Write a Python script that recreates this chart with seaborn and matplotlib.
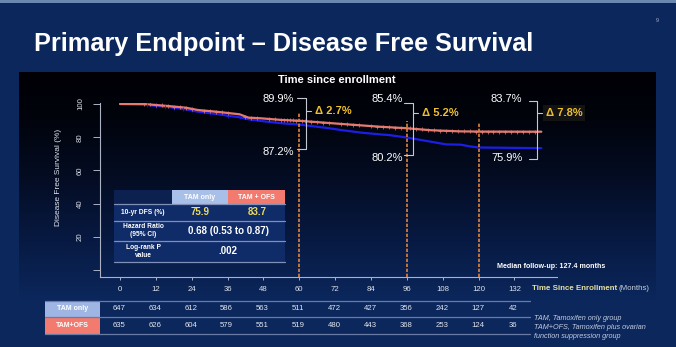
import numpy as np
import pandas as pd
import matplotlib
matplotlib.use("Agg")
import matplotlib.pyplot as plt
import seaborn as sns
from matplotlib.patches import Rectangle

# ---------------- data ----------------
months_ofs = [0, 8, 16, 22, 26, 32, 40, 43, 47, 54, 60, 74, 87, 96, 104, 114, 120, 141]
dfs_ofs = [100, 100, 98.8, 97.8, 96.4, 95.4, 93.8, 91.8, 91.4, 90.4, 89.9, 88.0, 86.3, 85.4, 84.2, 83.5, 83.4, 83.3]

months_tam = [0, 8, 16, 22, 26, 32, 40, 43, 47, 54, 60, 70, 74, 81, 87, 90, 96, 104, 109, 114, 117, 120, 141]
dfs_tam = [100, 99.6, 98.2, 96.8, 95.4, 94.0, 92.0, 90.8, 89.8, 88.4, 87.6, 85.4, 84.3, 82.7, 81.7, 81.3, 79.8, 77.3, 75.7, 75.5, 74.5, 73.8, 73.4]

censor_ofs = [8, 10, 12, 14, 16, 18, 20, 22, 24, 28, 30, 32, 34, 36, 42, 44, 46, 50, 52, 54, 55, 56, 57,
              58, 59, 61, 62, 64, 66, 68, 70, 74, 76, 78, 80, 84, 86, 88, 90, 92, 94, 97, 99, 101,
              103, 105, 107, 109, 111, 113, 115, 117, 119, 121, 123, 125, 127, 129, 131, 133, 135, 137, 139]
censor_tam = [9, 12, 15, 18, 21, 24, 30, 36, 40]

milestones = [60, 96, 120]
ms_ofs = [89.9, 85.4, 83.7]
ms_tam = [87.2, 80.2, 75.9]

x_ticks = [0, 12, 24, 36, 48, 60, 72, 84, 96, 108, 120, 132]
y_ticks = [0, 20, 40, 60, 80, 100]
y_ticklabels = ["", "20", "40", "60", "80", "100"]

risk_tam = [647, 634, 612, 586, 563, 511, 472, 427, 356, 242, 127, 42]
risk_ofs = [635, 626, 604, 579, 551, 519, 480, 443, 368, 253, 124, 36]

groups = ["TAM only", "TAM+OFS"]
dfs10 = ["75.9", "83.7"]
hr_text = "0.68 (0.53 to 0.87)"
p_text = ".002"

title = "Primary Endpoint \u2013 Disease Free Survival"
footnotes = ["TAM, Tamoxifen only group", "TAM+OFS, Tamoxifen plus ovarian", "function suppression group"]

# ---------------- style ----------------
sns.set_theme(style="ticks")
plt.rcParams["font.family"] = ["Liberation Sans", "DejaVu Sans"]

W, H = 676, 347
BG = "#0b275c"
RED = "#e67a6e"
BLUE = "#1c1ee6"
ORANGE = "#e0843c"
GOLD = "#f0c030"
LIGHTBLUE = "#a8bfe8"
SALMON = "#f27a6e"

fig = plt.figure(figsize=(W / 100, H / 100), dpi=100)
fig.patch.set_facecolor(BG)

# background overlay
bg = fig.add_axes([0, 0, 1, 1])
bg.set_zorder(0)
ys = np.linspace(72, 300, 300)
stops = [72, 120, 180, 240, 300]
cols = np.array([[0.0, 0.0, 0.02], [0.005, 0.015, 0.05], [0.015, 0.05, 0.14],
                 [0.03, 0.10, 0.26], [0.043, 0.153, 0.36]])
img = np.stack([np.interp(ys, stops, cols[:, k]) for k in range(3)], axis=-1)[:, None, :]
bg.imshow(img, extent=[19, 656, 300, 72], aspect="auto", interpolation="bilinear", zorder=0)
bg.add_patch(Rectangle((0, 0), W, 2.5, fc="#6a88b0", ec="none"))
bg.set_xlim(0, W)
bg.set_ylim(H, 0)
bg.axis("off")

# main axes
ax = fig.add_axes([100 / W, 1 - 277 / H, (557 - 100) / W, (277 - 103) / H])
ax.set_zorder(2)
ax.set_facecolor("none")

df = pd.concat([
    pd.DataFrame({"month": months_tam, "dfs": dfs_tam, "group": groups[0]}),
    pd.DataFrame({"month": months_ofs, "dfs": dfs_ofs, "group": groups[1]}),
])
sns.lineplot(data=df, x="month", y="dfs", hue="group", palette={groups[0]: BLUE, groups[1]: RED},
             estimator=None, sort=False, legend=False, linewidth=1.6, ax=ax)

cy_tam = np.interp(censor_tam, months_tam, dfs_tam)
cy_ofs = np.interp(censor_ofs, months_ofs, dfs_ofs)
sns.scatterplot(x=censor_tam, y=cy_tam, marker="+", s=10, color=BLUE, linewidth=0.5, ax=ax, zorder=3)
sns.scatterplot(x=censor_ofs, y=cy_ofs, marker="+", s=10, color=RED, linewidth=0.5, ax=ax, zorder=4)

ax.vlines(milestones, -4.22, [v + 4.6 for v in ms_ofs], colors=ORANGE,
          linestyles=(0, (2.0, 1.0)), linewidth=1.2, zorder=2)

ax.set_xlim(-20 / 2.988, 437 / 2.988)
ax.set_ylim(-7 / 1.66, 167 / 1.66)
ax.set_xticks(x_ticks)
ax.set_yticks(y_ticks)
ax.set_yticklabels(y_ticklabels)
ax.set_xlabel("")
ax.set_ylabel("")
for s in ["top", "right"]:
    ax.spines[s].set_visible(False)
for s in ["left", "bottom"]:
    ax.spines[s].set_color("#aab2c4")
    ax.spines[s].set_linewidth(0.8)
ax.tick_params(axis="x", length=2.2, width=0.7, pad=4, labelsize=5.6, colors="#aab2c4", labelcolor="#dfe3ec")
ax.tick_params(axis="y", length=5.0, width=0.7, pad=6.5, labelsize=5.6, colors="#aab2c4", labelcolor="#dfe3ec")
for lab in ax.get_yticklabels():
    lab.set_rotation(90)
    lab.set_va("center")
ax.grid(False)

# foreground overlay
fg = fig.add_axes([0, 0, 1, 1])
fg.set_zorder(3)
fg.set_xlim(0, W)
fg.set_ylim(H, 0)
fg.axis("off")
fg.patch.set_alpha(0)


def mpx(m):
    p = ax.transData.transform((m, 0))
    return fg.transData.inverted().transform(p)[0]


fg.text(34, 44, title, ha="left", va="center", fontsize=18.2, fontweight="bold", color="white")
fg.text(657, 20, "9", ha="center", va="center", fontsize=4, color="#a8b0c8")
fg.text(337, 80, "Time since enrollment", ha="center", va="center", fontsize=8, fontweight="bold", color="white")
fg.text(58, 177, "Disease Free Survival (%)", rotation=90, ha="center", va="center", fontsize=6, color="#dfe3ec")

# milestone brackets
lab_dx = [-21, -20, 28]
lab_top_y = [99, 99, 99]
lab_bot_y = [152, 158, 158]
br_dx = [6.7, 6.0, 58.4]
br_top = [98, 103, 101]
br_bot = [149, 155, 159]
br_mid = [111, 113, 113]
br_w = [9, 9, 8]
for i, m in enumerate(milestones):
    x0 = mpx(m)
    fg.text(x0 + lab_dx[i], lab_top_y[i], f"{ms_ofs[i]:.1f}%", ha="center", va="center", fontsize=8, color="white")
    fg.text(x0 + lab_dx[i], lab_bot_y[i], f"{ms_tam[i]:.1f}%", ha="center", va="center", fontsize=8, color="white")
    bx = x0 + br_dx[i]
    fg.plot([bx - br_w[i], bx, bx, bx - br_w[i]], [br_top[i], br_top[i], br_bot[i], br_bot[i]],
            color="#c4c8d2", lw=0.8)
    fg.plot([bx, bx + 5], [br_mid[i], br_mid[i]], color="#c4c8d2", lw=0.8)
    d = ms_ofs[i] - ms_tam[i]
    kw = {}
    if i == 2:
        kw["bbox"] = dict(boxstyle="square,pad=0.25", fc="#131313", ec="none")
    fg.text(bx + 9, br_mid[i], f"\u0394 {d:.1f}%", ha="left", va="center", fontsize=8,
            fontweight="bold", color=GOLD, **kw)

fg.text(497, 267, "Median follow-up: 127.4 months", ha="left", va="center", fontsize=5.1,
        fontweight="bold", color="white")

# stats table
NARROW = ["Liberation Sans Narrow", "Liberation Sans", "DejaVu Sans"]
fg.add_patch(Rectangle((114, 190), 58, 14, fc="#0c2150", ec="none"))
fg.add_patch(Rectangle((172, 190), 56, 14, fc=LIGHTBLUE, ec="none"))
fg.add_patch(Rectangle((228, 190), 57, 14, fc=SALMON, ec="none"))
fg.add_patch(Rectangle((114, 204), 171, 58, fc="#0f2b68", ec="none"))
for yy in [204, 220.7, 240.7, 262]:
    fg.plot([114, 285], [yy, yy], color="#8090b8", lw=0.9)
fg.text(200, 197, "TAM only", ha="center", va="center", fontsize=5, fontweight="bold", color="white")
fg.text(256.5, 197, "TAM + OFS", ha="center", va="center", fontsize=5, fontweight="bold", color="white")
fg.text(143, 212.3, "10-yr DFS (%)", ha="center", va="center", fontsize=4.8, fontweight="bold",
        color="white", family=NARROW)
fg.text(143, 230.7, "Hazard Ratio\n(95% CI)", ha="center", va="center", fontsize=4.8, fontweight="bold",
        color="white", family=NARROW, linespacing=1.1)
fg.text(143, 251.3, "Log-rank P\nvalue", ha="center", va="center", fontsize=4.8, fontweight="bold",
        color="white", family=NARROW, linespacing=1.1)
fg.text(200, 212.3, dfs10[0], ha="center", va="center", fontsize=7, fontweight="bold", color="#eedc5a")
fg.text(257, 212.3, dfs10[1], ha="center", va="center", fontsize=7, fontweight="bold", color="#eedc5a")
fg.text(228, 230.7, hr_text, ha="center", va="center", fontsize=7, fontweight="bold", color="white")
fg.text(228, 251.3, p_text, ha="center", va="center", fontsize=7, fontweight="bold", color="white")

# x-axis title
t1 = fg.text(532, 289, "Time Since Enrollment", ha="left", va="center", fontsize=5.7,
             fontweight="bold", color="#e6e0a0")
fg.annotate("(Months)", xy=(1, 0.5), xycoords=t1, xytext=(1, 0), textcoords="offset points",
            ha="left", va="center", fontsize=5.7, color="#c8cede")

# risk table
fg.add_patch(Rectangle((45, 301), 55, 16, fc="#9fb5e3", ec="none"))
fg.add_patch(Rectangle((45, 317), 55, 17, fc=SALMON, ec="none"))
for yy in [300.7, 317, 334]:
    fg.plot([45, 530], [yy, yy], color="#6a7ca6", lw=0.9)
fg.text(72.5, 309, groups[0], ha="center", va="center", fontsize=5, fontweight="bold", color="white")
fg.text(72.5, 325.5, groups[1], ha="center", va="center", fontsize=5, fontweight="bold", color="white")
for m, a, b in zip(x_ticks, risk_tam, risk_ofs):
    xx = mpx(m) - 1
    fg.text(xx, 309, str(a), ha="center", va="center", fontsize=5.6, color="#e2e6ef")
    fg.text(xx, 325.5, str(b), ha="center", va="center", fontsize=5.6, color="#e2e6ef")

for i, line in enumerate(footnotes):
    fg.text(534, 319 + i * 8.5, line, ha="left", va="center", fontsize=5.2, style="italic", color="#c4cce0")

fig.savefig("out.png", dpi=100, facecolor=fig.get_facecolor())
